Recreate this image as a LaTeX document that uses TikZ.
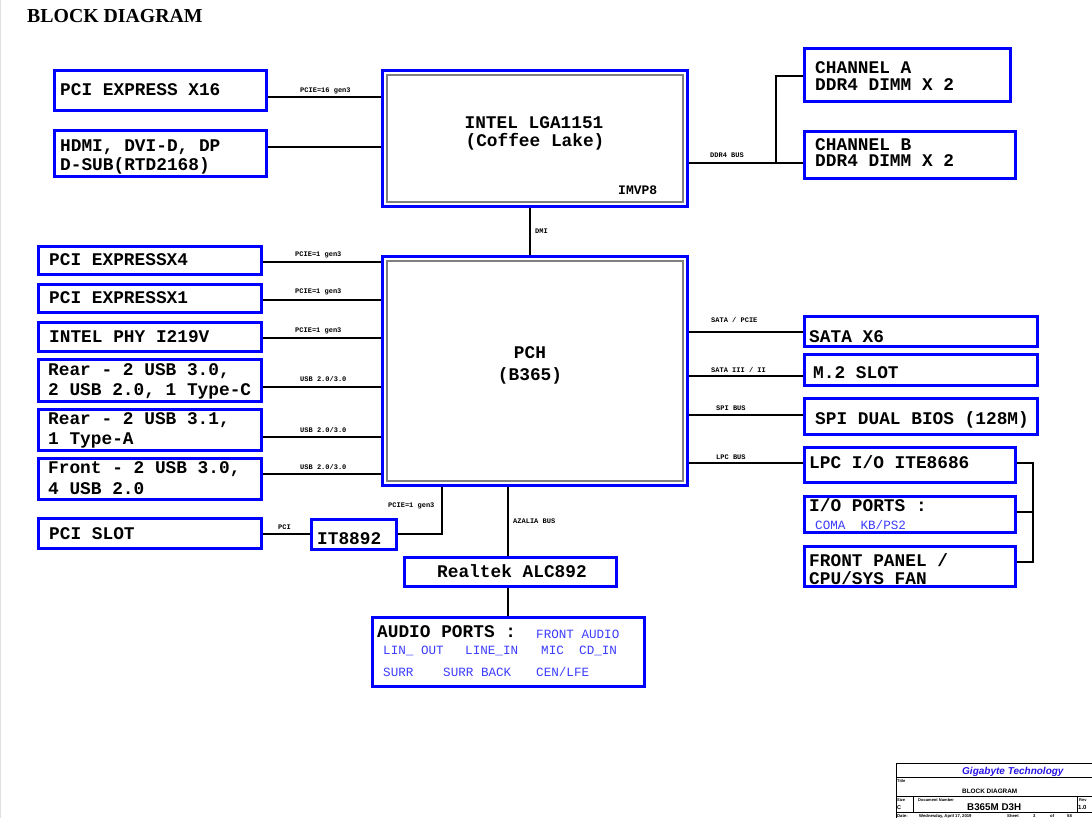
\documentclass[tikz,border=0pt]{standalone}
\usepackage{fontspec}
\newfontfamily\cour{Liberation Mono}
\newfontfamily\tnr{Liberation Serif}
\newfontfamily\arl{Liberation Sans}
\definecolor{bbord}{RGB}{0,0,255}
\definecolor{btext}{RGB}{60,60,255}
\definecolor{gtext}{RGB}{40,20,230}
\newcommand\blk[5]{\pgfmathsetmacro\bw{#4-#2-3}\pgfmathsetmacro\bh{#5-#3-3}%
  \node[blk,minimum width=\bw pt,minimum height=\bh pt,anchor=north west] (#1) at (#2,#3) {};}
\tikzset{
  blk/.style={draw=bbord,line width=3pt,outer sep=1.5pt,inner sep=0pt},
  inner/.style={draw=gray,line width=1.2pt},
  conn/.style={draw=black,line width=2.9pt},
  lbl/.style={font=\cour\bfseries\fontsize{17.8}{20}\selectfont,anchor=base west,inner sep=0pt},
  lblc/.style={lbl,anchor=base},
  tinyl/.style={font=\cour\bfseries\fontsize{7}{8}\selectfont,anchor=base west,inner sep=0pt},
  bluet/.style={font=\cour\fontsize{12.6}{14}\selectfont,text=btext,anchor=base west,inner sep=0pt},
  tb/.style={draw=black,line width=0.8pt},
  tbt/.style={font=\arl\bfseries\fontsize{4}{5}\selectfont,anchor=base west,inner sep=0pt},
  tbd/.style={font=\arl\bfseries\fontsize{4.2}{5}\selectfont,anchor=base west,inner sep=0pt},
}
\begin{document}
\begin{tikzpicture}[x=1pt,y=-1pt]
\useasboundingbox[fill=white] (0,0) rectangle (1092,818);
\draw[gray!25,line width=1pt] (0.5,0) -- (0.5,818);
% title
\node[font=\tnr\bfseries\fontsize{19.8}{22}\selectfont,anchor=base west,inner sep=0pt] (title) at (27,23) {BLOCK DIAGRAM};
% boxes
\blk{pcie16}{53}{69}{268}{112}
\blk{hdmi}{53}{129}{268}{178}
\blk{cpu}{381}{69}{689}{208}
\blk{chA}{803}{47}{1012}{103}
\blk{chB}{803}{130}{1017}{180}
\blk{pch}{381}{255}{689}{487}
\blk{xfour}{37}{245}{263}{276}
\blk{xone}{37}{283}{263}{314}
\blk{phy}{37}{321}{263}{353}
\blk{rearA}{37}{358}{263}{403}
\blk{rearB}{37}{408}{263}{452}
\blk{front}{37}{457}{263}{501}
\blk{pcislot}{37}{517}{263}{550}
\blk{it}{310}{518}{398}{551}
\blk{alc}{403}{556}{618}{588}
\blk{audio}{371}{616}{646}{688}
\blk{sata}{803}{315}{1039}{348}
\blk{mtwo}{803}{353}{1039}{387}
\blk{spi}{803}{397}{1039}{436}
\blk{lpc}{803}{446}{1017}{484}
\blk{io}{803}{495}{1017}{534}
\blk{fp}{803}{545}{1017}{588}
% inner rectangles
\draw[inner] (387,75) rectangle (683,202);
\draw[inner] (387,261) rectangle (683,481);
% connectors
\draw[conn] (pcie16.east |- 0,97) -- (cpu.west |- 0,97);
\draw[conn] (hdmi.east |- 0,147) -- (cpu.west |- 0,147);
\coordinate (ddrj) at (776,163);
\draw[conn] (cpu.east |- ddrj) -- (chB.west |- ddrj);
\draw[conn] (ddrj) |- (chA.west |- 0,76);
\draw[conn] (cpu.south -| 530,0) -- (pch.north -| 530,0);
\draw[conn] (xfour.east |- 0,262) -- (pch.west |- 0,262);
\draw[conn] (xone.east |- 0,300) -- (pch.west |- 0,300);
\draw[conn] (phy.east |- 0,338) -- (pch.west |- 0,338);
\draw[conn] (rearA.east |- 0,387) -- (pch.west |- 0,387);
\draw[conn] (rearB.east |- 0,437) -- (pch.west |- 0,437);
\draw[conn] (front.east |- 0,474) -- (pch.west |- 0,474);
\draw[conn] (pcislot.east |- 0,534) -- (it.west |- 0,534);
\draw[conn] (it.east |- 0,534) -| (pch.south -| 442,0);
\draw[conn] (pch.south -| 508,0) -- (alc.north -| 508,0);
\draw[conn] (alc.south -| 508,0) -- (audio.north -| 508,0);
\draw[conn] (pch.east |- 0,332) -- (sata.west |- 0,332);
\draw[conn] (pch.east |- 0,376) -- (mtwo.west |- 0,376);
\draw[conn] (pch.east |- 0,415) -- (spi.west |- 0,415);
\draw[conn] (pch.east |- 0,463) -- (lpc.west |- 0,463);
\coordinate (bt) at (1033,463);
\coordinate (bb) at (1033,562);
\draw[conn] (lpc.east |- bt) -- (bt) -- (bb) -- (fp.east |- bb);
\draw[conn] (io.east |- 0,512) -- (bt |- 0,512);
% bus labels
\node[tinyl] (l1) at (300,93) {PCIE=16 gen3};
\node[tinyl] (l2) at (295,257) {PCIE=1 gen3};
\node[tinyl] (l3) at (295,294) {PCIE=1 gen3};
\node[tinyl] (l4) at (295,332) {PCIE=1 gen3};
\node[tinyl] (l5) at (300,381) {USB 2.0/3.0};
\node[tinyl] (l6) at (300,432) {USB 2.0/3.0};
\node[tinyl] (l7) at (300,469) {USB 2.0/3.0};
\node[tinyl] (l8) at (278,529) {PCI};
\node[tinyl] (l9) at (388,507) {PCIE=1 gen3};
\node[tinyl] (l10) at (513,523) {AZALIA BUS};
\node[tinyl] (l11) at (535,234) {DMI};
\node[tinyl] (l12) at (710,158) {DDR4 BUS};
\node[tinyl] (l13) at (711,322) {SATA / PCIE};
\node[tinyl] (l14) at (711,372) {SATA III / II};
\node[tinyl] (l15) at (716,410) {SPI BUS};
\node[tinyl] (l16) at (716,459) {LPC BUS};
% box texts
\node[lbl] (t1) at (60,96) {PCI EXPRESS X16};
\node[lbl] (t2) at (60,152) {HDMI, DVI-D, DP};
\node[lbl] (t3) at (60,171) {D-SUB(RTD2168)};
\node[lbl] (t4) at (49,266) {PCI EXPRESSX4};
\node[lbl] (t5) at (49,304) {PCI EXPRESSX1};
\node[lbl] (t6) at (49,342) {INTEL PHY I219V};
\node[lbl] (t7) at (48,375) {Rear - 2 USB 3.0,};
\node[lbl] (t8) at (48,395) {2 USB 2.0, 1 Type-C};
\node[lbl] (t9) at (48,424) {Rear - 2 USB 3.1,};
\node[lbl] (t10) at (48,444) {1 Type-A};
\node[lbl] (t11) at (48,473) {Front - 2 USB 3.0,};
\node[lbl] (t12) at (48,494) {4 USB 2.0};
\node[lbl] (t13) at (49,539) {PCI SLOT};
\node[lbl] (t14) at (317,544) {IT8892};
\node[lblc] (t15) at (534,129) {INTEL LGA1151};
\node[lblc] (t16) at (535,147) {(Coffee Lake)};
\node[lbl,font=\cour\bfseries\fontsize{13}{15}\selectfont] (t17) at (618,195) {IMVP8};
\node[lblc] (t18) at (530,358) {PCH};
\node[lblc] (t19) at (530,380) {(B365)};
\node[lbl] (t20) at (437,577) {Realtek ALC892};
\node[lbl] (t21) at (377,637) {AUDIO PORTS :};
\node[bluet] (b1) at (536,638) {FRONT AUDIO};
\node[bluet] (b2) at (383,654) {LIN\_ OUT};
\node[bluet] (b3) at (465,654) {LINE\_IN};
\node[bluet] (b4) at (541,654) {MIC};
\node[bluet] (b5) at (579,654) {CD\_IN};
\node[bluet] (b6) at (383,676) {SURR};
\node[bluet] (b7) at (443,676) {SURR BACK};
\node[bluet] (b8) at (536,676) {CEN/LFE};
\node[lbl] (t22) at (815,74) {CHANNEL A};
\node[lbl] (t23) at (815,91) {DDR4 DIMM X 2};
\node[lbl] (t24) at (815,151) {CHANNEL B};
\node[lbl] (t25) at (815,167) {DDR4 DIMM X 2};
\node[lbl] (t26) at (809,342) {SATA X6};
\node[lbl] (t27) at (813,378) {M.2 SLOT};
\node[lbl] (t28) at (815,424) {SPI DUAL BIOS (128M)};
\node[lbl] (t29) at (809,468) {LPC I/O ITE8686};
\node[lbl] (t30) at (809,511) {I/O PORTS :};
\node[bluet] (b9) at (815,529) {COMA\ \ KB/PS2};
\node[lbl] (t31) at (809,566) {FRONT PANEL /};
\node[lbl] (t32) at (809,584) {CPU/SYS FAN};
% title block
\draw[tb] (1093,763) -- (896,763) -- (896,820);
\draw[tb] (896,777) -- (1093,777);
\draw[tb] (896,796) -- (1093,796);
\draw[tb] (896,812.5) -- (1093,812.5);
\draw[tb] (913,796) -- (913,812.5);
\draw[tb] (1077,796) -- (1077,812.5);
\node[font=\arl\bfseries\itshape\fontsize{10}{12}\selectfont,text=gtext,anchor=base west,inner sep=0pt] (g1) at (962,774) {Gigabyte Technology};
\node[tbt] (g2) at (897,782) {Title};
\node[font=\arl\bfseries\fontsize{6.4}{8}\selectfont,anchor=base west,inner sep=0pt] (g3) at (962,793) {BLOCK DIAGRAM};
\node[tbt] (g4) at (897,801) {Size};
\node[tbt,font=\arl\bfseries\fontsize{5.5}{6}\selectfont] (g5) at (897,809) {C};
\node[tbt] (g6) at (918,801) {Document Number};
\node[font=\arl\bfseries\fontsize{9.8}{12}\selectfont,anchor=base west,inner sep=0pt] (g7) at (967,810) {B365M D3H};
\node[tbt] (g8) at (1079,801) {Rev};
\node[tbt,font=\arl\bfseries\fontsize{6}{7}\selectfont] (g9) at (1078,809) {1.0};
\node[tbd] (g10) at (897,817.3) {Date:};
\node[tbd] (g11) at (919,817.3) {Wednesday, April 17, 2019};
\node[tbd] (g12) at (1007,817.3) {Sheet};
\node[tbd] (g13) at (1033,817.3) {3};
\node[tbd] (g14) at (1050,817.3) {of};
\node[tbd] (g15) at (1067,817.3) {58};
\end{tikzpicture}
\end{document}
